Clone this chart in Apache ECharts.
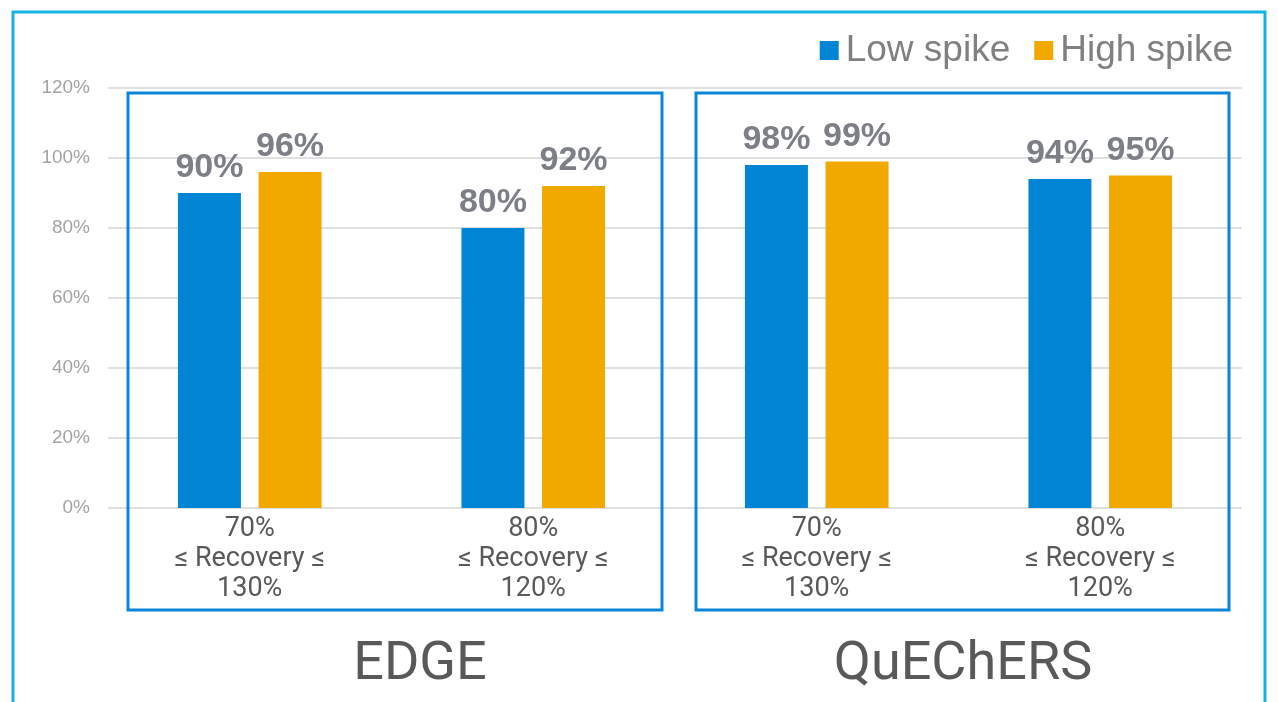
<!DOCTYPE html>
<html>
<head>
<meta charset="utf-8">
<script src="https://cdn.jsdelivr.net/npm/echarts@6/dist/echarts.min.js"></script>
<style>
  html, body { margin: 0; padding: 0; background: #fff; }
  #chart { width: 1278px; height: 702px; }
</style>
</head>
<body>
<div id="chart"></div>
<script>
// categories and values (percent)
const categories = [
  '70%\n≤ Recovery ≤\n130%',
  '80%\n≤ Recovery ≤\n120%',
  '70%\n≤ Recovery ≤\n130%',
  '80%\n≤ Recovery ≤\n120%'
]
const lowSpike = [90, 80, 98, 94]
const highSpike = [96, 92, 99, 95]
const yTicks = [0, 20, 40, 60, 80, 100, 120]
const groupNames = ['EDGE', 'QuEChERS']

const BLUE = '#0385d5'
const ORANGE = '#f1a900'
const BOX = '#0a86d8'

const chart = echarts.init(document.getElementById('chart'))

const barLabel = {
  show: true,
  position: 'top',
  distance: 8,
  formatter: '{c}%',
  fontFamily: 'Liberation Sans, Arial, sans-serif',
  fontWeight: 'bold',
  fontSize: 34,
  color: '#7c7f85'
}

chart.setOption({
  animation: false,
  legend: {
    right: 40,
    top: 27,
    icon: 'rect',
    itemWidth: 19,
    itemHeight: 19,
    itemGap: 24,
    textStyle: {
      fontFamily: 'Liberation Sans, Arial, sans-serif',
      fontSize: 37,
      color: '#808080',
      padding: [0, 0, 0, 2]
    },
    data: ['Low spike', 'High spike']
  },
  grid: { left: 108, right: 36, top: 88, bottom: 194 },
  xAxis: {
    type: 'category',
    data: categories,
    axisLine: { show: false },
    axisTick: { show: false },
    axisLabel: {
      margin: 6,
      fontFamily: 'Roboto, sans-serif',
      fontSize: 27,
      lineHeight: 30,
      color: '#595959',
      interval: 0
    }
  },
  yAxis: {
    type: 'value',
    min: yTicks[0],
    max: yTicks[yTicks.length - 1],
    interval: 20,
    axisLine: { show: false },
    axisTick: { show: false },
    axisLabel: {
      formatter: '{value}%',
      margin: 18,
      fontFamily: 'Liberation Sans, Arial, sans-serif',
      fontSize: 19,
      color: '#a3a3a3'
    },
    splitLine: { lineStyle: { color: '#e0e0e0', width: 2 } }
  },
  series: [
    {
      name: 'Low spike',
      type: 'bar',
      data: lowSpike,
      barWidth: 63,
      barGap: '28%',
      itemStyle: { color: BLUE },
      label: barLabel
    },
    {
      name: 'High spike',
      type: 'bar',
      data: highSpike,
      barWidth: 63,
      itemStyle: { color: ORANGE },
      label: barLabel
    }
  ],
  graphic: [
    // outer frame
    {
      type: 'rect',
      shape: { x: 13, y: 12, width: 1252, height: 720 },
      style: { fill: 'none', stroke: '#13b4e4', lineWidth: 3 },
      z: 100
    },
    // group boxes
    {
      type: 'rect',
      shape: { x: 128, y: 93, width: 534, height: 517 },
      style: { fill: 'none', stroke: BOX, lineWidth: 3 },
      z: 100
    },
    {
      type: 'rect',
      shape: { x: 696, y: 93, width: 533, height: 517 },
      style: { fill: 'none', stroke: BOX, lineWidth: 3 },
      z: 100
    },
    {
      type: 'text',
      x: 420,
      y: 665,
      style: {
        text: groupNames[0],
        align: 'center',
        verticalAlign: 'middle',
        fontFamily: 'Roboto, sans-serif',
        fontSize: 54,
        fill: '#595959'
      }
    },
    {
      type: 'text',
      x: 963,
      y: 665,
      style: {
        text: groupNames[1],
        align: 'center',
        verticalAlign: 'middle',
        fontFamily: 'Roboto, sans-serif',
        fontSize: 54,
        fill: '#595959'
      }
    }
  ]
})
</script>
</body>
</html>
